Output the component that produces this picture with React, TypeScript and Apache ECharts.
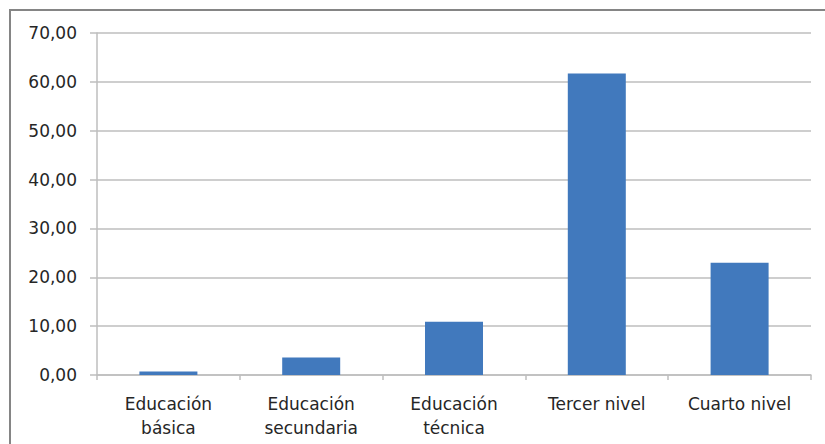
import React, { useEffect, useRef } from "react";
import * as echarts from "echarts";

const categories = [
  "Educación\nbásica",
  "Educación\nsecundaria",
  "Educación\ntécnica",
  "Tercer nivel",
  "Cuarto nivel",
];
const values = [0.7, 3.6, 10.9, 61.7, 23.0];
const yMin = 0;
const yMax = 70;
const yInterval = 10;

export default function App() {
  const ref = useRef<HTMLDivElement>(null);
  useEffect(() => {
    if (!ref.current) return;
    const chart = echarts.init(ref.current, null, { renderer: "svg" });
    const font = "DejaVu Sans";
    const gray = "#BEBEBE";
    chart.setOption({
      animation: false,
      textStyle: { fontFamily: font },
      graphic: [
        {
          type: "rect",
          shape: { x: 10, y: 10, width: 840, height: 460 },
          style: { fill: "none", stroke: "#858585", lineWidth: 2 },
          silent: true,
        },
      ],
      grid: { left: 97, top: 33, right: 14, bottom: 69, containLabel: false },
      xAxis: {
        type: "category",
        data: categories,
        axisLine: { show: true, lineStyle: { color: gray, width: 1.5 } },
        axisTick: { show: true, length: 5, alignWithLabel: false, lineStyle: { color: gray, width: 1.5 } },
        axisLabel: {
          color: "#262626",
          fontSize: 17,
          fontFamily: font,
          lineHeight: 24,
          margin: 17,
          interval: 0,
        },
        splitLine: { show: false },
      },
      yAxis: {
        type: "value",
        min: yMin,
        max: yMax,
        interval: yInterval,
        axisLine: { show: true, lineStyle: { color: gray, width: 1.5 } },
        axisTick: { show: true, length: 7, lineStyle: { color: gray, width: 1.5 } },
        axisLabel: {
          color: "#262626",
          fontSize: 17,
          fontFamily: font,
          margin: 20,
          formatter: (v: number) => v.toFixed(2).replace(".", ","),
        },
        splitLine: { show: true, lineStyle: { color: gray, width: 1.5 } },
      },
      series: [
        {
          type: "bar",
          data: values,
          barWidth: 58,
          itemStyle: { color: "#4179BD" },
        },
      ],
    });
    return () => chart.dispose();
  }, []);
  return <div ref={ref} style={{ width: 825, height: 444, position: "absolute", left: 0, top: 0 }} />;
}
